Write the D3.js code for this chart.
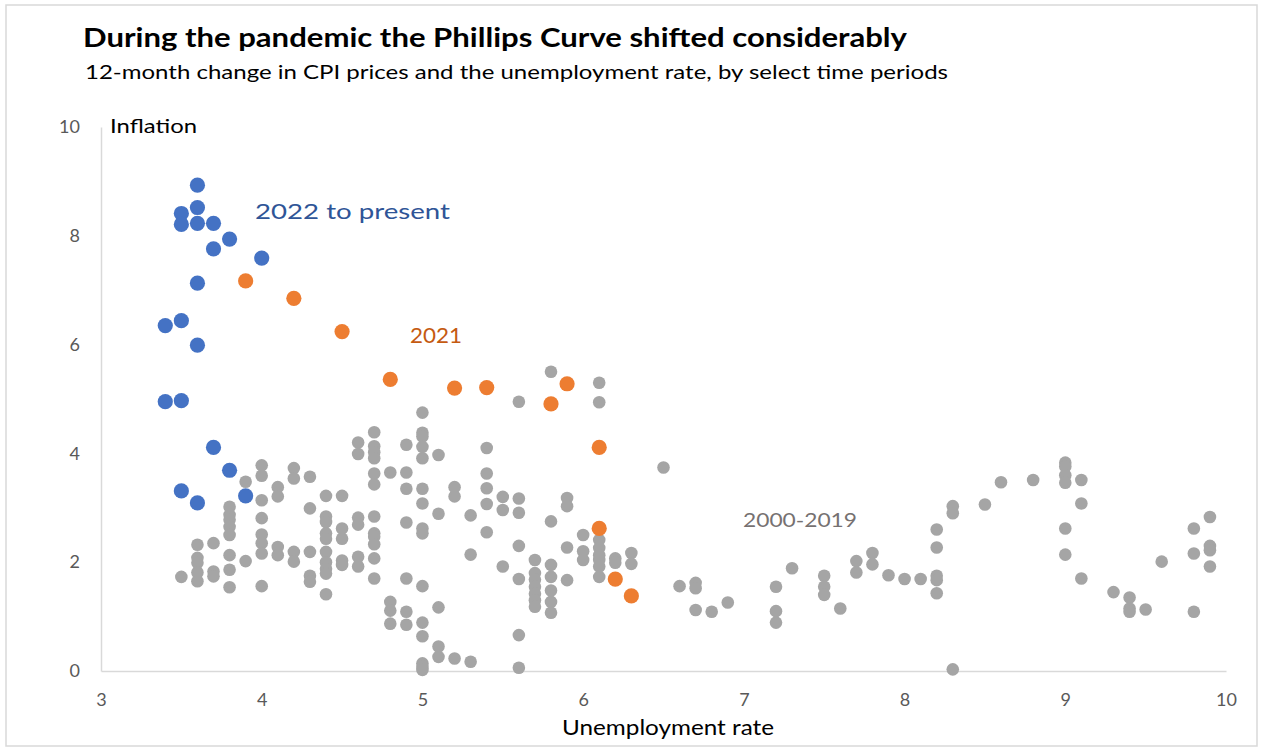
<!DOCTYPE html>
<html>
<head>
<meta charset="utf-8">
<script src="https://cdn.jsdelivr.net/npm/d3@7/dist/d3.min.js"></script>
<style>
  html, body { margin: 0; padding: 0; background: #ffffff; }
  svg { display: block; }
  text { font-family: Lato, "Open Sans", sans-serif; }
</style>
</head>
<body>
<svg id="chart" width="1263" height="749"></svg>
<script>
// Monthly observations: [unemployment rate, 12-month CPI inflation]
const period2000to2019 = [
  [3.5,1.73],
  [3.6,2.32],[3.6,2.08],[3.6,1.99],[3.6,1.81],[3.6,1.65],
  [3.7,2.35],[3.7,1.83],[3.7,1.74],
  [3.8,3.02],[3.8,2.87],[3.8,2.78],[3.8,2.65],[3.8,2.50],[3.8,2.13],[3.8,1.86],[3.8,1.54],
  [3.9,3.48],[3.9,2.02],
  [4.0,3.78],[4.0,3.59],[4.0,3.14],[4.0,2.81],[4.0,2.51],[4.0,2.35],[4.0,2.16],[4.0,1.56],
  [4.1,3.38],[4.1,3.21],[4.1,2.28],[4.1,2.13],
  [4.2,3.73],[4.2,3.54],[4.2,2.19],[4.2,2.01],
  [4.3,3.57],[4.3,2.99],[4.3,2.19],[4.3,1.75],[4.3,1.64],
  [4.4,3.22],[4.4,2.84],[4.4,2.74],[4.4,2.53],[4.4,2.43],[4.4,2.19],[4.4,2.00],[4.4,1.88],[4.4,1.79],[4.4,1.41],
  [4.5,3.22],[4.5,2.62],[4.5,2.43],[4.5,2.03],[4.5,1.95],
  [4.6,4.20],[4.6,3.99],[4.6,2.82],[4.6,2.69],[4.6,2.10],[4.6,1.92],
  [4.7,4.39],[4.7,4.13],[4.7,4.02],[4.7,3.91],[4.7,3.63],[4.7,3.43],[4.7,2.84],[4.7,2.53],[4.7,2.47],[4.7,2.33],[4.7,2.07],[4.7,1.70],
  [4.8,3.65],[4.8,1.27],[4.8,1.11],[4.8,0.87],
  [4.9,4.16],[4.9,3.65],[4.9,3.35],[4.9,2.73],[4.9,1.70],[4.9,1.09],[4.9,0.85],
  [5.0,4.75],[5.0,4.38],[5.0,4.31],[5.0,4.12],[5.0,3.91],[5.0,3.35],[5.0,3.08],[5.0,2.62],[5.0,2.53],[5.0,1.56],[5.0,0.89],[5.0,0.64],[5.0,0.14],[5.0,0.08],[5.0,0.02],
  [5.1,3.97],[5.1,2.89],[5.1,1.17],[5.1,0.45],[5.1,0.26],
  [5.2,3.38],[5.2,3.21],[5.2,0.23],
  [5.3,2.86],[5.3,2.14],[5.3,0.17],
  [5.4,4.10],[5.4,3.63],[5.4,3.36],[5.4,3.07],[5.4,2.55],
  [5.5,3.20],[5.5,2.96],[5.5,1.92],
  [5.6,4.95],[5.6,3.17],[5.6,2.91],[5.6,2.30],[5.6,1.69],[5.6,0.66],[5.6,0.06],
  [5.7,2.04],[5.7,1.80],[5.7,1.68],[5.7,1.55],[5.7,1.42],[5.7,1.30],[5.7,1.18],
  [5.8,5.50],[5.8,2.75],[5.8,1.95],[5.8,1.73],[5.8,1.48],[5.8,1.27],[5.8,1.07],
  [5.9,3.18],[5.9,3.03],[5.9,2.27],[5.9,1.67],
  [6.0,2.50],[6.0,2.20],[6.0,2.04],
  [6.1,5.30],[6.1,4.94],[6.1,2.41],[6.1,2.26],[6.1,2.13],[6.1,2.04],[6.1,1.92],[6.1,1.73],
  [6.2,2.07],[6.2,1.99],
  [6.3,2.17],[6.3,1.97],
  [6.5,3.74],
  [6.6,1.56],
  [6.7,1.62],[6.7,1.52],[6.7,1.12],
  [6.8,1.09],
  [6.9,1.26],
  [7.2,1.55],[7.2,1.10],[7.2,0.89],
  [7.3,1.89],
  [7.5,1.75],[7.5,1.55],[7.5,1.40],
  [7.6,1.15],
  [7.7,2.02],[7.7,1.81],
  [7.8,2.17],[7.8,1.96],
  [7.9,1.76],
  [8.0,1.69],
  [8.1,1.69],
  [8.2,2.60],[8.2,2.27],[8.2,1.75],[8.2,1.67],[8.2,1.43],
  [8.3,3.03],[8.3,2.90],[8.3,0.03],
  [8.5,3.06],
  [8.6,3.47],
  [8.8,3.51],
  [9.0,3.83],[9.0,3.76],[9.0,3.60],[9.0,3.46],[9.0,2.62],[9.0,2.14],
  [9.1,3.51],[9.1,3.08],[9.1,1.70],
  [9.3,1.45],
  [9.4,1.35],[9.4,1.15],[9.4,1.09],
  [9.5,1.13],
  [9.6,2.01],
  [9.8,2.62],[9.8,2.16],[9.8,1.09],
  [9.9,2.83],[9.9,2.30],[9.9,2.22],[9.9,1.92]
];

const period2021 = [
  [6.3,1.38],[6.2,1.69],[6.1,2.62],[6.1,4.11],[5.8,4.91],[5.9,5.28],
  [5.4,5.21],[5.2,5.20],[4.8,5.36],[4.5,6.24],[4.2,6.85],[3.9,7.17]
];

const period2022on = [
  [4.0,7.59],[3.8,7.94],[3.6,8.52],[3.7,8.23],[3.6,8.23],[3.6,8.93],
  [3.5,8.41],[3.5,8.21],[3.7,7.76],[3.6,7.13],[3.5,6.44],[3.4,6.35],
  [3.6,5.99],[3.5,4.97],[3.4,4.95],[3.7,4.11],[3.5,3.31],[3.6,3.09],
  [3.8,3.69],[3.9,3.22]
];

const xTicks = [3, 4, 5, 6, 7, 8, 9, 10];
const yTicks = [0, 2, 4, 6, 8, 10];

const titleText = "During the pandemic the Phillips Curve shifted considerably";
const subtitleText = "12-month change in CPI prices and the unemployment rate, by select time periods";

const svg = d3.select("#chart");

// frame around the whole graphic
svg.append("rect")
  .attr("x", 6).attr("y", 5)
  .attr("width", 1251).attr("height", 741)
  .attr("fill", "#ffffff")
  .attr("stroke", "#d9d9d9")
  .attr("stroke-width", 1.5);

const x = d3.scaleLinear().domain([3, 10]).range([101, 1226]);
const y = d3.scaleLinear().domain([0, 10]).range([671, 127]);

// titles
svg.append("text")
  .attr("x", 83).attr("y", 47)
  .attr("font-size", 26).attr("font-weight", 700)
  .attr("fill", "#000000")
  .attr("textLength", 824).attr("lengthAdjust", "spacingAndGlyphs")
  .text(titleText);

svg.append("text")
  .attr("x", 85).attr("y", 79)
  .attr("font-size", 20)
  .attr("fill", "#000000")
  .attr("textLength", 863).attr("lengthAdjust", "spacingAndGlyphs")
  .text(subtitleText);

// axes
const xAxis = svg.append("g")
  .attr("transform", `translate(0,${y(0)})`)
  .call(d3.axisBottom(x).tickValues(xTicks).tickSize(0).tickPadding(22).tickFormat(d3.format("d")));

const yAxis = svg.append("g")
  .attr("transform", `translate(${x(3)},0)`)
  .call(d3.axisLeft(y).tickValues(yTicks).tickSize(0).tickPadding(21).tickFormat(d3.format("d")));

[xAxis, yAxis].forEach(g => {
  g.select(".domain").attr("stroke", "#d9d9d9").attr("stroke-width", 1.5);
  g.selectAll("text")
    .attr("fill", "#595959")
    .attr("font-size", 18)
    .attr("font-family", "Lato, 'Open Sans', sans-serif");
});

// axis titles
svg.append("text")
  .attr("x", 110).attr("y", 133)
  .attr("font-size", 20).attr("fill", "#000000")
  .attr("textLength", 87).attr("lengthAdjust", "spacingAndGlyphs")
  .text("Inflation");

svg.append("text")
  .attr("x", 562).attr("y", 735)
  .attr("font-size", 21).attr("fill", "#000000")
  .attr("textLength", 212).attr("lengthAdjust", "spacingAndGlyphs")
  .text("Unemployment rate");

// scatter layers
const plot = svg.append("g");

plot.append("g").selectAll("circle")
  .data(period2000to2019)
  .join("circle")
  .attr("cx", d => x(d[0]))
  .attr("cy", d => y(d[1]))
  .attr("r", 6.3)
  .attr("fill", "#a5a5a5");

plot.append("g").selectAll("circle")
  .data(period2021)
  .join("circle")
  .attr("cx", d => x(d[0]))
  .attr("cy", d => y(d[1]))
  .attr("r", 7.6)
  .attr("fill", "#ed7d31");

plot.append("g").selectAll("circle")
  .data(period2022on)
  .join("circle")
  .attr("cx", d => x(d[0]))
  .attr("cy", d => y(d[1]))
  .attr("r", 7.6)
  .attr("fill", "#4472c4");

// period labels
svg.append("text")
  .attr("x", 255).attr("y", 219)
  .attr("font-size", 21).attr("fill", "#2f5597")
  .attr("textLength", 195).attr("lengthAdjust", "spacingAndGlyphs")
  .text("2022 to present");

svg.append("text")
  .attr("x", 410).attr("y", 343)
  .attr("font-size", 21).attr("fill", "#c55a11")
  .attr("textLength", 52).attr("lengthAdjust", "spacingAndGlyphs")
  .text("2021");

svg.append("text")
  .attr("x", 743).attr("y", 527)
  .attr("font-size", 20).attr("fill", "#767171")
  .attr("textLength", 114).attr("lengthAdjust", "spacingAndGlyphs")
  .text("2000-2019");
</script>
</body>
</html>
